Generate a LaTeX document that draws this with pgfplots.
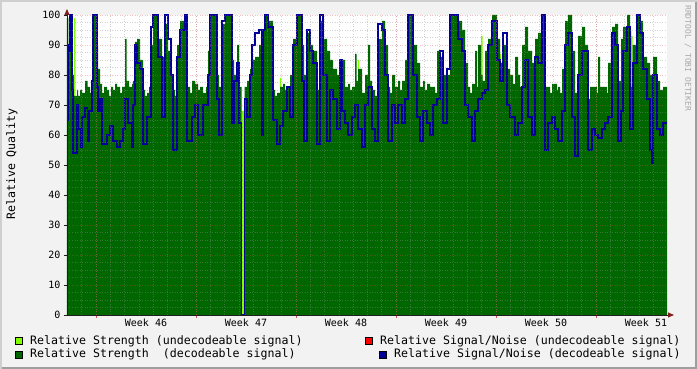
\documentclass[border=0pt]{standalone}
\usepackage{fontspec}
\setmainfont{DejaVu Sans Mono}
\usepackage{pgfplots}
\pgfplotsset{compat=1.18}
\usetikzlibrary{arrows.meta}
\definecolor{bgc}{rgb}{0.95,0.95,0.95}
\definecolor{shadeA}{rgb}{0.81,0.81,0.81}
\definecolor{shadeB}{rgb}{0.62,0.62,0.62}
\definecolor{gridc}{rgb}{0.56,0.56,0.56}
\definecolor{mgridc}{rgb}{0.87,0.31,0.31}
\definecolor{arrowc}{rgb}{0.5,0.12,0.12}
\definecolor{axisc}{rgb}{0.12,0.12,0.12}
\definecolor{limec}{RGB}{128,255,0}
\definecolor{dgreen}{RGB}{0,102,0}
\definecolor{dblue}{RGB}{0,0,153}
\definecolor{wmark}{rgb}{0.66,0.66,0.66}
\begin{document}
\begin{tikzpicture}[x=1pt,y=1pt]
\fill[bgc] (0,0) rectangle (697,369);
\fill[shadeA] (0,0) rectangle (2,369);
\fill[shadeA] (0,367) rectangle (697,369);
\fill[shadeB] (695,0) rectangle (697,367);
\fill[shadeB] (2,0) rectangle (697,2);
\begin{axis}[
  at={(67pt,54pt)}, anchor=south west,
  scale only axis, width=600pt, height=300pt,
  xmin=0, xmax=600, ymin=0, ymax=100,
  axis background/.style={fill=white},
  axis lines=left,
  x axis line style={axisc, line width=0.8pt, -{Triangle[length=6pt,width=5pt,color=arrowc,fill=arrowc]}, shorten >=-7pt},
  y axis line style={axisc, line width=0.8pt, -{Triangle[length=6pt,width=5pt,color=arrowc,fill=arrowc]}, shorten >=-6pt},
  axis on top,
  xtick={29,129,229,329,429,529},
  xticklabels={,,,,,},
  minor xtick={0.4286,14.7143,...,600},
  ytick={0,10,...,100},
  minor y tick num=3,
  tick align=outside,
  major tick length=3pt,
  minor tick length=0pt,
  x tick style={mgridc, line width=0.6pt},
  y tick style={axisc, line width=0.6pt},
  grid=both,
  major grid style={mgridc, opacity=0.35, dash pattern=on 1pt off 1.5pt, line width=0.5pt},
  minor grid style={gridc, opacity=0.4, dash pattern=on 1pt off 1.5pt, line width=0.5pt},
  extra x ticks={79,179,279,379,479,579},
  extra x tick labels={Week 46,Week 47,Week 48,Week 49,Week 50,Week 51},
  extra x tick style={grid=none, major tick length=0pt},
  tick label style={font=\fontsize{10}{12}\selectfont, text=black},
  /pgf/number format/assume math mode=true,
]
\addplot[const plot, fill=limec, draw=none] table[row sep=\\]{
x y\\
0 0\\ 7 99\\ 8.5 0\\ 174.5 68\\ 177.5 0\\ 213 79\\ 214 0\\ 250 76\\ 251 0\\
291 85\\ 292 0\\ 378 77\\ 379 0\\ 414 93\\ 415.5 0\\ 433 87\\ 434 0\\
564 93\\ 565.5 0\\ 586 72\\ 587 0\\ 600 0\\
} \closedcycle;
\addplot[const plot, fill=dgreen, draw=none] table[row sep=\\]{
x y\\
0 99\\ 1.5 90\\ 3 100\\ 5 80\\ 7 73\\ 10 75\\ 11 73\\ 13 75\\ 15 74\\ 18 78\\
20.5 76\\ 23 74\\ 25 82\\ 26 100\\ 30 90\\ 31 82\\ 33 77\\ 35 74\\ 37 76\\ 40 75\\
42 73\\ 44 76\\ 46 75\\ 48 77\\ 50 76\\ 53 74\\ 55 76\\ 58 92\\ 59.5 78\\ 62 76\\
65 77\\ 66 78\\ 68 91\\ 70 92\\ 73 85\\ 76 75\\ 78 73\\ 80 74\\ 82 76\\ 84 90\\
86 100\\ 91 92\\ 95 86\\ 98 97\\ 101 88\\ 104 80\\ 106 75\\ 108 73\\ 110 90\\ 113 98\\
118 95\\ 120 76\\ 123 74\\ 125 78\\ 128 77\\ 131 75\\ 133 76\\ 136 74\\ 139 76\\ 141 88\\
143 100\\ 150 80\\ 152 76\\ 155 97\\ 158 100\\ 165 85\\ 167 80\\ 170 90\\ 172 76\\ 174.5 0\\
177.5 76\\ 180 78\\ 183 82\\ 185 85\\ 188 86\\ 192 90\\ 195 95\\ 198 100\\ 201 98\\ 206 75\\
208 73\\ 210 74\\ 213 76\\ 216 77\\ 218 75\\ 220 76\\ 223 80\\ 226 92\\ 230 100\\ 235 90\\
237 80\\ 240 94\\ 243 90\\ 246 88\\ 250 75\\ 253 98\\ 256 92\\ 260 88\\ 263 85\\ 266 82\\
270 80\\ 273 84\\ 275 85\\ 278 76\\ 281 77\\ 283 75\\ 285 76\\ 288 87\\ 289.5 78\\ 291 82\\
295 74\\ 298 80\\ 301 90\\ 303 78\\ 305 75\\ 308 73\\ 311 92\\ 315 98\\ 318 90\\ 321 76\\
323 74\\ 325 80\\ 328 76\\ 331 78\\ 333 75\\ 335 78\\ 338 85\\ 341 100\\ 346 90\\ 350 84\\
353 76\\ 356 78\\ 358 75\\ 360 77\\ 363 76\\ 366 76\\ 368 74\\ 370 88\\ 373 86\\ 376 80\\
380 80\\ 383 100\\ 391 98\\ 395 95\\ 398 84\\ 401 76\\ 403 74\\ 405 77\\ 408 88\\ 410 76\\
411 90\\ 414 80\\ 415.5 78\\ 418 88\\ 421 92\\ 425 100\\ 430 92\\ 433 84\\ 436 90\\ 440 82\\
443 80\\ 446 77\\ 448 86\\ 451 80\\ 453 76\\ 455 90\\ 458 96\\ 461 88\\ 465 84\\ 468 92\\
471 94\\ 475 100\\ 478 76\\ 481 76\\ 483 74\\ 485 77\\ 488 77\\ 490 75\\ 491 76\\ 493 74\\
495 82\\ 498 98\\ 501 100\\ 505 88\\ 508 74\\ 511 93\\ 515 96\\ 518 90\\ 521 72\\ 523 76\\
525 76\\ 528 76\\ 530 74\\ 531 86\\ 533 76\\ 535 76\\ 538 76\\ 540 74\\ 541 84\\ 545 96\\
548 97\\ 551 78\\ 554 92\\ 556 96\\ 560 100\\ 563 95\\ 564 76\\ 565.5 90\\ 570 100\\ 573 98\\
576 86\\ 580 84\\ 583 80\\ 586 86\\ 590 78\\ 593 75\\ 596 76\\ 600 76\\
} \closedcycle;
\addplot[const plot, dblue, line width=1.5pt] table[row sep=\\]{
x y\\
0 65\\ 1 90\\ 1.5 88\\ 3 100\\ 5 75\\ 6 54\\ 10 70\\ 11 62\\ 14 56\\ 15 66\\
18 69\\ 20.5 58\\ 22 68\\ 25 78\\ 26 100\\ 30 76\\ 31 68\\ 33 72\\ 35 57\\ 40 60\\
43 63\\ 46 58\\ 50 56\\ 53 58\\ 56 62\\ 58 72\\ 61 64\\ 65 56\\ 66 70\\ 68 90\\
70 84\\ 73 82\\ 76 57\\ 80 66\\ 84 96\\ 86 100\\ 91 86\\ 95 66\\ 98 100\\ 101 92\\
104 80\\ 106 55\\ 110 86\\ 113 95\\ 118 100\\ 120 58\\ 125 66\\ 128 70\\ 131 60\\ 136 70\\
141 80\\ 143 100\\ 150 72\\ 152 60\\ 155 98\\ 158 100\\ 165 64\\ 167 78\\ 170 84\\ 172 64\\
174.5 0\\ 177.5 72\\ 180 66\\ 183 80\\ 185 90\\ 188 94\\ 192 95\\ 195 60\\ 196 95\\ 198 100\\
201 96\\ 206 65\\ 210 57\\ 213 63\\ 216 68\\ 220 76\\ 223 66\\ 226 90\\ 230 100\\ 235 78\\
237 58\\ 240 95\\ 243 88\\ 246 84\\ 250 57\\ 253 100\\ 256 80\\ 260 58\\ 263 75\\ 266 72\\
270 62\\ 273 85\\ 275 68\\ 278 64\\ 281 60\\ 285 66\\ 288 70\\ 291 62\\ 295 56\\ 298 70\\
301 76\\ 305 62\\ 308 58\\ 311 97\\ 315 95\\ 318 80\\ 321 58\\ 325 70\\ 328 64\\ 331 70\\
335 64\\ 338 72\\ 341 100\\ 346 80\\ 350 66\\ 353 58\\ 356 68\\ 360 64\\ 363 60\\ 366 70\\
370 72\\ 373 88\\ 376 64\\ 380 82\\ 383 100\\ 391 92\\ 395 88\\ 398 70\\ 401 66\\ 405 58\\
408 68\\ 411 72\\ 415 74\\ 418 75\\ 421 90\\ 425 98\\ 430 85\\ 433 78\\ 436 94\\ 440 70\\
443 66\\ 448 60\\ 451 64\\ 455 76\\ 458 85\\ 461 66\\ 465 60\\ 468 86\\ 471 84\\ 475 100\\
478 55\\ 481 64\\ 485 66\\ 488 62\\ 491 58\\ 495 68\\ 498 90\\ 501 94\\ 505 66\\ 508 53\\
511 80\\ 515 88\\ 518 88\\ 521 55\\ 525 62\\ 528 60\\ 531 59\\ 535 62\\ 538 64\\ 541 66\\
545 94\\ 548 90\\ 551 58\\ 554 68\\ 556 88\\ 560 96\\ 563 62\\ 566 84\\ 570 100\\ 573 94\\
576 82\\ 580 72\\ 583 55\\ 585 50.5\\ 586 80\\ 590 62\\ 593 60\\ 596 64\\ 600 64\\
};
\end{axis}
% y label
\node[rotate=90, inner sep=0pt, font=\fontsize{11.6}{13}\selectfont] at (12,205) {Relative Quality};
% watermark
\node[rotate=-90, anchor=mid west, inner sep=0pt, font=\fontsize{8}{9}\selectfont, text=wmark] at (688,364) {RRDTOOL / TOBI OETIKER};
% legend
\filldraw[fill=limec, draw=black, line width=0.5pt] (15.5,24.5) rectangle (22,31.5);
\node[anchor=mid west, inner sep=0pt, font=\fontsize{11.6}{13}\selectfont] at (30,27) {Relative Strength (undecodeable signal)};
\filldraw[fill=dgreen, draw=black, line width=0.5pt] (15.5,11) rectangle (22,18);
\node[anchor=mid west, inner sep=0pt, font=\fontsize{11.6}{13}\selectfont] at (30,14) {Relative Strength\ \ (decodeable signal)};
\filldraw[fill=red, draw=black, line width=0.5pt] (365.5,24.5) rectangle (372,31.5);
\node[anchor=mid west, inner sep=0pt, font=\fontsize{11.6}{13}\selectfont] at (380,27) {Relative Signal/Noise (undecodeable signal)};
\filldraw[fill=dblue, draw=black, line width=0.5pt] (379.5,11) rectangle (386,18);
\node[anchor=mid west, inner sep=0pt, font=\fontsize{11.6}{13}\selectfont] at (394,14) {Relative Signal/Noise (decodeable signal)};
\pgfresetboundingbox
\path[use as bounding box] (0,0) rectangle (697,369);
\end{tikzpicture}
\end{document}
